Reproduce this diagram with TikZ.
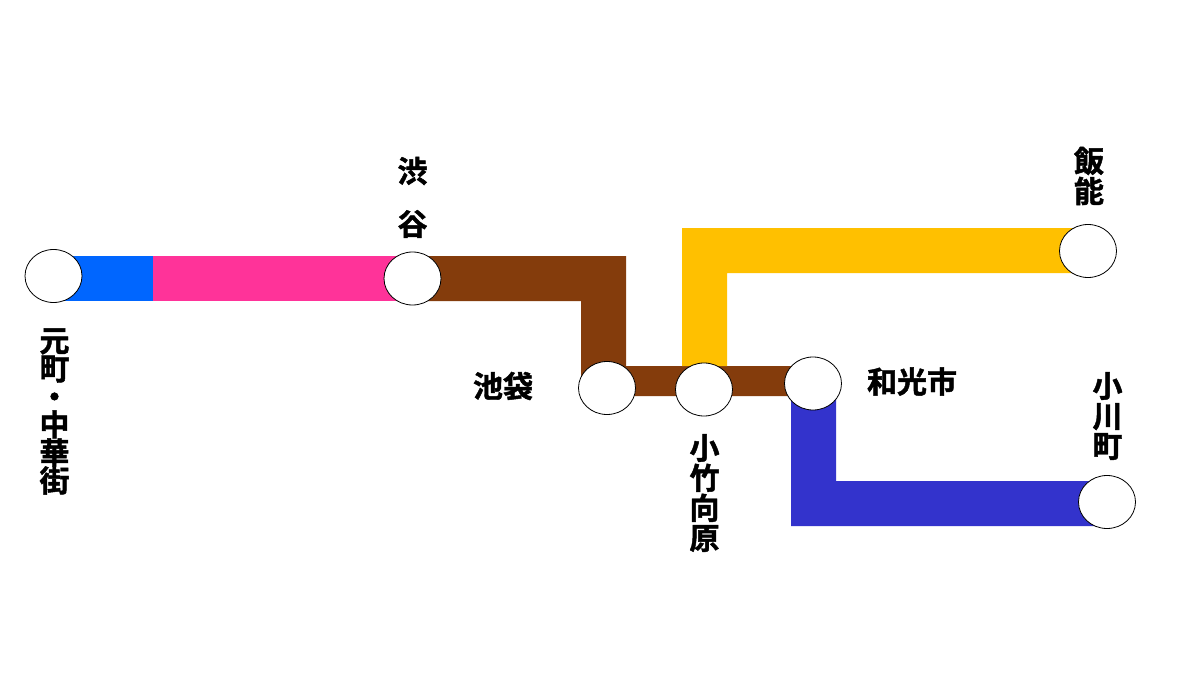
\documentclass[tikz,border=0pt]{standalone}
\usepackage{fontspec}
\newfontfamily\cjk{Noto Sans CJK JP}[UprightFont={* Bold},BoldFont={* Bold},Scale=1,RawFeature={embolden=1.5}]
\definecolor{lblue}{HTML}{0066FF}
\definecolor{lpink}{HTML}{FF3399}
\definecolor{lbrown}{HTML}{843C0C}
\definecolor{lgold}{HTML}{FFC000}
\definecolor{lindigo}{HTML}{3333CC}
\usetikzlibrary{shapes.geometric}
\tikzset{
  x=1pt,y=-1pt,
  station/.style={draw=black,fill=white,ellipse,minimum width=57pt,minimum height=53pt,inner sep=0pt,line width=0.8pt},
  lbl/.style={font=\cjk\fontsize{30}{30}\selectfont,inner sep=0pt,align=center,text=black},
}
\begin{document}
\begin{tikzpicture}
\useasboundingbox (0,0) rectangle (1200,690);
\fill[white] (0,0) rectangle (1200,690);
\fill[lblue] (53,256) rectangle (153,301);
\fill[lpink] (153,256) rectangle (412,301);
\fill[lbrown] (412,256) -- (626,256) -- (626,366) -- (813,366) -- (813,396) -- (581,396) -- (581,301) -- (412,301) -- cycle;
\fill[lgold] (682,366) -- (682,228) -- (1088,228) -- (1088,273) -- (727,273) -- (727,366) -- cycle;
\fill[lindigo] (791,396) -- (836,396) -- (836,481) -- (1106,481) -- (1106,526) -- (791,526) -- cycle;
\node[station] (motomachi) at (53.5,276) {};
\node[station] (shibuya) at (412.5,278.5) {};
\node[station] (ikebukuro) at (607,388) {};
\node[station] (kotake) at (704,389.5) {};
\node[station] (wako) at (813,383.5) {};
\node[station] (hanno) at (1088,251) {};
\node[station] (ogawa) at (1107,502) {};
\node[lbl] (l1) at (54.5,411.5) {元\\[-2pt]町\\[-2pt]・\\[-2pt]中\\[-2pt]華\\[-2pt]街};
\node[lbl] (l2) at (412.5,171) {渋};
\node[lbl] (l2b) at (412.5,224) {谷};
\node[lbl] (l3) at (503,386) {池袋};
\node[lbl] (l4) at (704.5,493) {小\\竹\\向\\原};
\node[lbl] (l5) at (912,381.5) {和光市};
\node[lbl] (l6) at (1089,176) {飯\\能};
\node[lbl] (l7) at (1107.5,416) {小\\川\\町};
\end{tikzpicture}
\end{document}
